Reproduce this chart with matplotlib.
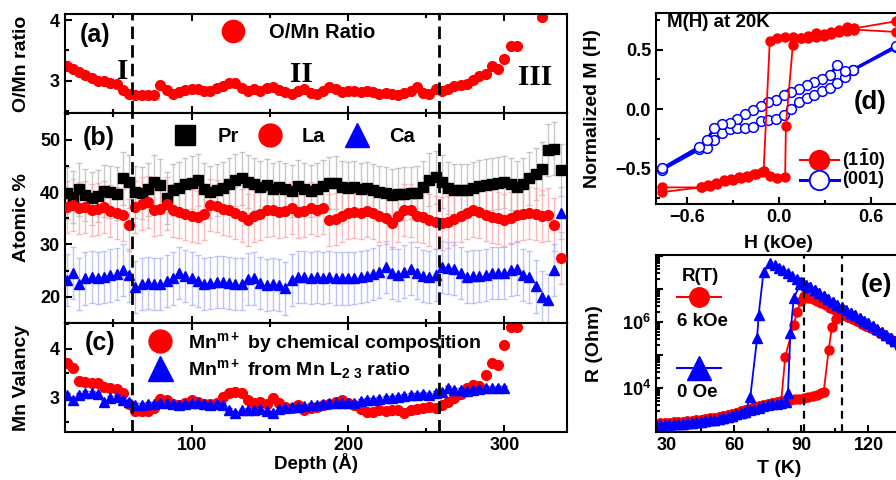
import numpy as np
import matplotlib
matplotlib.use("Agg")
import matplotlib.pyplot as plt
from matplotlib.lines import Line2D
from matplotlib.ticker import MultipleLocator, LogLocator, FuncFormatter, NullFormatter

plt.rcParams['font.family'] = ['Liberation Sans', 'DejaVu Sans']
plt.rcParams['font.weight'] = 'bold'
plt.rcParams['axes.labelweight'] = 'bold'
plt.rcParams['mathtext.fontset'] = 'custom'
plt.rcParams['mathtext.rm'] = 'Liberation Sans:bold'
plt.rcParams['mathtext.it'] = 'Liberation Sans:bold:italic'
plt.rcParams['mathtext.bf'] = 'Liberation Sans:bold'
plt.rcParams['mathtext.default'] = 'rm'

nan = np.nan

# ---- depth profiles (a)-(c) ----
depth = [20, 24, 28, 32, 36, 40, 44, 48, 52, 56, 60, 64, 68, 72, 76, 80, 84, 88, 92, 96,
         100, 104, 108, 112, 116, 120, 124, 128, 132, 136, 140, 144, 148, 152, 156, 160,
         164, 168, 172, 176, 180, 184, 188, 192, 196, 200, 204, 208, 212, 216, 220, 224,
         228, 232, 236, 240, 244, 248, 252, 256, 260, 264, 268, 272, 276, 280, 284, 288,
         292, 296, 300, 304, 308, 312, 316, 320, 324, 328, 332, 336]

o_mn = [3.25, 3.20, 3.14, 3.10, 3.05, 3.00, 3.00, 2.97, 2.95, 2.85,
        2.79, 2.77, 2.76, 2.76, 2.77, 2.93, 2.85, 2.79, 2.82, 2.85,
        2.87, 2.86, 2.84, 2.84, 2.88, 2.92, 2.96, 2.97, 2.88, 2.84,
        2.86, 2.84, 2.88, 2.90, 2.85, 2.81, 2.79, 2.84, 2.87, 2.80,
        2.78, 2.84, 2.89, 2.87, 2.82, 2.84, 2.83, 2.82, 2.84, 2.81,
        2.79, 2.80, 2.78, 2.76, 2.80, 2.84, 2.90, 2.80, 2.78, 2.86,
        2.83, 2.86, 2.91, 2.93, 2.95, 3.02, 3.08, 3.12, 3.24, 3.20,
        3.36, 3.57, 3.58, nan, nan, nan, 4.05, nan, nan, nan]

pr = [39.8, 39.0, 40.5, 39.5, 38.8, 39.3, 40.2, 40.0, 39.7, 42.6,
      42.0, 40.0, 39.8, 40.5, 42.0, 41.4, 38.9, 40.4, 40.7, 41.6,
      41.8, 42.3, 40.5, 40.0, 40.4, 40.8, 41.5, 42.3, 42.6, 42.0,
      41.5, 41.0, 41.4, 40.6, 41.0, 40.5, 40.2, 41.2, 40.6, 40.2,
      40.5, 41.2, 41.7, 41.8, 41.0, 40.8, 41.0, 40.5, 40.7, 40.3,
      40.0, 39.8, 39.5, 39.6, 39.7, 39.8, 39.9, 41.0, 42.4, 42.8,
      42.0, 40.8, 40.4, 40.4, 40.4, 40.8, 41.1, 41.3, 41.5, 41.7,
      41.9, 41.5, 41.0, 41.6, 42.6, 43.5, 44.5, 48.0, 48.3, 44.2]

la = [37.2, 37.5, 37.0, 37.2, 36.6, 36.8, 37.2, 36.4, 36.0, 35.6,
      33.7, 37.2, 37.8, 38.1, 36.6, 36.8, 37.8, 36.5, 36.2, 35.8,
      35.4, 35.2, 35.8, 37.5, 37.4, 36.8, 36.6, 36.0, 35.5, 34.7,
      35.4, 35.8, 36.5, 36.6, 36.2, 36.4, 36.9, 36.2, 36.4, 36.9,
      36.6, 36.9, 34.7, 34.9, 35.5, 36.0, 36.2, 36.0, 36.4, 36.0,
      35.5, 35.0, 34.1, 35.5, 36.6, 36.5, 35.5, 35.2, 34.7, 34.2,
      34.0, 34.3, 34.8, 35.5, 36.0, 36.5, 36.2, 35.7, 35.3, 35.0,
      34.7, 35.0, 35.6, 35.8, 36.0, 35.8, 35.4, 35.7, 33.8, 27.4]

ca = [23.2, 24.5, 22.5, 23.5, 23.8, 23.6, 23.8, 24.1, 24.3, 25.1,
      24.1, 21.9, 22.5, 22.6, 22.5, 22.5, 23.0, 23.5, 24.5, 24.0,
      23.5, 23.0, 22.5, 22.6, 22.8, 22.8, 22.6, 22.5, 22.5, 23.4,
      23.5, 22.6, 22.2, 22.4, 22.2, 21.6, 23.2, 23.8, 23.8, 23.6,
      23.8, 23.6, 23.8, 23.5, 23.5, 23.5, 23.6, 23.8, 24.0, 24.3,
      24.8, 25.7, 24.5, 24.2, 24.8, 25.4, 24.5, 24.0, 23.8, 24.2,
      25.7, 25.5, 25.4, 24.5, 23.8, 23.9, 24.0, 24.2, 24.5, 24.5,
      24.6, 25.2, 25.4, 24.2, 23.8, 22.0, 20.0, 19.4, 25.1, 36.0]

mn_chem = [3.72, 3.60, 3.35, 3.32, 3.30, 3.30, 3.22, 3.20, 3.18, 3.10,
           2.88, 2.72, 2.72, 2.72, 2.80, 2.98, 2.95, 2.88, 2.85, 2.90,
           2.95, 2.92, 2.88, 2.88, 2.90, 3.02, 3.10, 3.12, 3.10, 2.95,
           2.90, 2.92, 2.88, 3.00, 2.90, 2.82, 2.80, 2.85, 2.75, 2.80,
           2.82, 2.85, 2.88, 2.92, 2.95, 2.89, 2.86, 2.78, 2.70, 2.70,
           2.74, 2.72, 2.74, 2.75, 2.69, 2.74, 2.78, 2.79, 2.82, 2.80,
           2.85, 2.92, 3.00, 3.08, 3.20, 3.27, 3.24, 3.47, 3.71, 3.68,
           4.08, 4.45, 4.45, nan, nan, nan, nan, nan, nan, nan]

mn_l23 = [3.05, 2.96, 3.05, 3.10, 3.10, 3.08, 2.92, 3.00, 3.02, 2.95,
          2.92, 2.85, 2.86, 2.87, 2.88, 2.90, 2.89, 2.88, 2.85, 2.88,
          2.89, 2.89, 2.87, 2.86, 2.88, 2.86, 2.75, 2.69, 2.74, 2.76,
          2.75, 2.78, 2.72, 2.69, 2.78, 2.80, 2.82, 2.82, 2.84, 2.86,
          2.85, 2.88, 2.90, 2.89, 2.90, 2.89, 2.90, 2.93, 2.95, 2.96,
          2.97, 3.00, 3.00, 3.02, 3.04, 3.05, 3.06, 3.07, 3.05, 3.10,
          3.12, 3.20, 3.15, 3.16, 3.13, 3.16, 3.18, 3.20, 3.19, 3.20,
          3.20, nan, nan, nan, nan, nan, nan, nan, nan, nan]

o_mn_err = 0.05
atom_err = 5.0
chem_err = 0.07
l23_err = 0.04
region_bounds = [62, 258]

# ---- M(H) at 20K (d) ----
h_110_up = [-0.76, -0.51, -0.46, -0.41, -0.36, -0.31, -0.26, -0.21, -0.16, -0.11, -0.06,
            -0.01, 0.04, 0.045, 0.09, 0.14, 0.19, 0.24, 0.29, 0.34, 0.39, 0.44, 0.49, 0.76]
m_110_up = [-0.70, -0.66, -0.64, -0.62, -0.60, -0.59, -0.57, -0.56, -0.55, -0.53, -0.56,
            -0.58, -0.57, -0.14, 0.54, 0.60, 0.62, 0.64, 0.63, 0.65, 0.67, 0.69, 0.68, 0.74]
h_110_dn = [0.76, 0.49, 0.44, 0.39, 0.34, 0.29, 0.24, 0.19, 0.14, 0.09, 0.04, -0.01, -0.06,
            -0.10, -0.15, -0.20, -0.25, -0.30, -0.35, -0.40, -0.45, -0.50, -0.76]
m_110_dn = [0.65, 0.67, 0.66, 0.65, 0.63, 0.62, 0.61, 0.60, 0.60, 0.61, 0.61, 0.60, 0.57,
            -0.52, -0.55, -0.57, -0.58, -0.60, -0.61, -0.63, -0.65, -0.66, -0.66]
h_001_up = [-0.76, -0.52, -0.47, -0.42, -0.37, -0.32, -0.27, -0.22, -0.17, -0.12, -0.07, -0.02,
            0.03, 0.08, 0.13, 0.18, 0.23, 0.28, 0.33, 0.38, 0.43, 0.48, 0.76]
m_001_up = [-0.51, -0.34, -0.33, -0.26, -0.20, -0.17, -0.16, -0.16, -0.15, -0.10, -0.09, -0.08,
            -0.05, 0.00, 0.06, 0.09, 0.12, 0.15, 0.18, 0.22, 0.27, 0.33, 0.52]
h_001_dn = [0.76, 0.48, 0.43, 0.38, 0.33, 0.28, 0.23, 0.18, 0.13, 0.08, 0.03, -0.02, -0.07,
            -0.12, -0.17, -0.22, -0.27, -0.32, -0.37, -0.42, -0.47, -0.52, -0.76]
m_001_dn = [0.53, 0.33, 0.32, 0.37, 0.29, 0.25, 0.23, 0.20, 0.17, 0.14, 0.12, 0.08, 0.06,
            0.03, -0.01, -0.04, -0.08, -0.12, -0.13, -0.16, -0.26, -0.32, -0.50]

# ---- R(T) (e), log10(R / Ohm) ----
t_0oe_low = [25, 27, 29, 31, 33, 35, 37, 39, 41, 43, 45, 47, 49, 51, 53, 55, 57, 59, 61, 63,
             65, 67, 69, 71, 73, 75, 77, 79, 81, 83]
lr_0oe_low = [2.87, 2.87, 2.88, 2.89, 2.90, 2.91, 2.92, 2.93, 2.95, 2.96, 2.98, 3.00, 3.02,
              3.04, 3.07, 3.10, 3.13, 3.16, 3.20, 3.24, 3.28, 3.32, 3.36, 3.40, 3.44, 3.47,
              3.50, 3.53, 3.56, 3.59]
t_0oe_high = [76, 78, 80, 82, 84, 86, 88, 90, 92, 94, 96, 98, 100, 102, 104, 106, 108, 110,
              112, 114, 116, 118, 120, 122, 124, 126, 128, 130, 132, 134, 136]
lr_0oe_high = [7.78, 7.72, 7.64, 7.56, 7.48, 7.40, 7.31, 7.22, 7.13, 7.05, 6.96, 6.87, 6.79,
               6.70, 6.61, 6.52, 6.44, 6.36, 6.28, 6.20, 6.12, 6.04, 5.96, 5.87, 5.78, 5.69,
               5.60, 5.51, 5.42, 5.33, 5.24]
t_0oe_warm = [84.0, 85.1, 86.6, 89.6]
lr_0oe_warm = [3.84, 5.66, 6.72, 7.15]
t_0oe_cool = [73.1, 70.9, 70.2, 67.2]
lr_0oe_cool = [7.52, 6.21, 5.50, 3.74]

t_6k_low = [25, 27, 29, 31, 33, 35, 37, 39, 41, 43, 45, 47, 49, 51, 53, 55, 57, 59, 61, 63,
            65, 67, 69, 71, 73, 75, 77, 79, 81, 83, 85, 87, 89, 91, 93, 95, 97, 99]
lr_6k_low = [2.92, 2.93, 2.94, 2.95, 2.96, 2.97, 2.98, 2.99, 3.00, 3.02, 3.04, 3.06, 3.08,
             3.10, 3.12, 3.15, 3.18, 3.21, 3.25, 3.29, 3.33, 3.37, 3.41, 3.45, 3.48, 3.51,
             3.54, 3.57, 3.60, 3.62, 3.64, 3.66, 3.68, 3.70, 3.72, 3.75, 3.79, 3.86]
t_6k_high = [91, 93, 95, 97, 99, 101, 103, 105, 107, 109, 111, 113, 115, 117, 119, 121, 123,
             125, 127, 129, 131, 133, 135]
lr_6k_high = [6.77, 6.73, 6.68, 6.62, 6.56, 6.50, 6.43, 6.36, 6.28, 6.22, 6.15, 6.08, 6.02,
              5.95, 5.89, 5.82, 5.75, 5.67, 5.59, 5.50, 5.42, 5.33, 5.25]
t_6k_warm = [100.0, 102.2, 103.7, 105.5]
lr_6k_warm = [3.89, 5.15, 5.86, 6.10]
t_6k_cool = [89.8, 88.1, 86.6, 82.8]
lr_6k_cool = [6.62, 6.31, 5.91, 4.95]
t_marks = [91, 108]


def style(ax, top_ticks=False):
    for s in ax.spines.values():
        s.set_linewidth(1.5)
    ax.tick_params(which='both', direction='in', width=1.5, labelsize=13, top=top_ticks)
    ax.tick_params(which='major', length=5)
    ax.tick_params(which='minor', length=3)


fig = plt.figure(figsize=(8.96, 4.8), dpi=100)
ax_a = fig.add_axes([0.0725, 0.7646, 0.5603, 0.2063])
ax_b = fig.add_axes([0.0725, 0.3271, 0.5603, 0.4375])
ax_c = fig.add_axes([0.0725, 0.1000, 0.5603, 0.2271])
ax_d = fig.add_axes([0.7321, 0.5750, 0.2746, 0.3980])
ax_e = fig.add_axes([0.7321, 0.1000, 0.2746, 0.3690])

x = np.array(depth, dtype=float)
dash = (0, (4.5, 2.2))
caps = dict(capsize=2, capthick=1, elinewidth=1)

# (a)
ax_a.errorbar(x, o_mn, yerr=o_mn_err, fmt='o', color='red', ms=7, mec='red', ecolor='red', **caps)
ax_a.set_ylim(2.47, 4.1)
ax_a.yaxis.set_major_locator(MultipleLocator(1))
ax_a.yaxis.set_minor_locator(MultipleLocator(0.5))
ax_a.set_ylabel('O/Mn ratio', fontsize=14)
ax_a.text(0.06, 0.79, '(a)', transform=ax_a.transAxes, fontsize=18, ha='center', va='center')
for lab, px, py in [('I', 0.1155, 0.414), ('II', 0.47, 0.384), ('III', 0.937, 0.359)]:
    ax_a.text(px, py, lab, transform=ax_a.transAxes, fontsize=21, ha='center', va='center',
              family='Liberation Serif', fontweight='bold')
ax_a.legend([Line2D([], [], ls='none', marker='o', color='red', ms=16)], ['O/Mn Ratio'],
            loc='center left', bbox_to_anchor=(0.315, 0.81), frameon=False, fontsize=14.5,
            handlelength=1.0, handletextpad=1.3, borderpad=0, borderaxespad=0)

# (b)
ax_b.errorbar(x, pr, yerr=atom_err, fmt='none', ecolor='#b5b5b5', alpha=0.75, zorder=1, **caps)
ax_b.errorbar(x, la, yerr=atom_err, fmt='none', ecolor='#f7a5a5', alpha=0.75, zorder=1, **caps)
ax_b.errorbar(x, ca, yerr=atom_err, fmt='none', ecolor='#aab0f5', alpha=0.75, zorder=1, **caps)
ax_b.plot(x, pr, 's', color='black', ms=6.5, zorder=3)
ax_b.plot(x, la, 'o', color='red', ms=7, zorder=3)
ax_b.plot(x, ca, '^', color='blue', ms=7.5, zorder=3)
ax_b.set_ylim(15, 55.1)
ax_b.yaxis.set_major_locator(MultipleLocator(10))
ax_b.yaxis.set_minor_locator(MultipleLocator(5))
ax_b.set_ylabel('Atomic %', fontsize=14)
ax_b.text(0.068, 0.881, '(b)', transform=ax_b.transAxes, fontsize=18, ha='center', va='center')
ax_b.legend([Line2D([], [], ls='none', marker='s', color='black', ms=15),
             Line2D([], [], ls='none', marker='o', color='red', ms=16.5),
             Line2D([], [], ls='none', marker='^', color='blue', ms=17)],
            ['Pr', 'La', 'Ca'], ncol=3, loc='center left', bbox_to_anchor=(0.219, 0.886),
            frameon=False, fontsize=14.5, handlelength=1.0, handletextpad=1.1,
            columnspacing=1.05, borderpad=0, borderaxespad=0)

# (c)
ax_c.errorbar(x, mn_chem, yerr=chem_err, fmt='o', color='red', ms=7, ecolor='red', zorder=2, **caps)
ax_c.errorbar(x, mn_l23, yerr=l23_err, fmt='^', color='blue', ms=7.5, ecolor='blue', zorder=3, **caps)
ax_c.set_ylim(2.3, 4.53)
ax_c.yaxis.set_major_locator(MultipleLocator(1))
ax_c.yaxis.set_minor_locator(MultipleLocator(0.5))
ax_c.set_ylabel('Mn Valancy', fontsize=14)
ax_c.set_xlabel('Depth (Å)', fontsize=13.5)
ax_c.text(0.07, 0.817, '(c)', transform=ax_c.transAxes, fontsize=18, ha='center', va='center')
ax_c.legend([Line2D([], [], ls='none', marker='o', color='red', ms=16.5),
             Line2D([], [], ls='none', marker='^', color='blue', ms=18)],
            [r'Mn$^{\mathrm{m+}}$ by chemical composition',
             r'Mn$^{\mathrm{m+}}$ from Mn L$_{\mathrm{2\ 3}}$ ratio'],
            loc='center left', bbox_to_anchor=(0.169, 0.70), frameon=False, fontsize=14,
            handlelength=1.0, handletextpad=0.95, labelspacing=0.05,
            borderpad=0, borderaxespad=0)

for ax in (ax_a, ax_b, ax_c):
    style(ax, top_ticks=True)
    ax.set_xlim(19, 340)
    ax.xaxis.set_major_locator(MultipleLocator(100))
    ax.xaxis.set_minor_locator(MultipleLocator(50))
    for b in region_bounds:
        ax.axvline(b, color='black', lw=2, ls=dash, zorder=5)
    ax.yaxis.set_label_coords(-0.07, 0.5)
for ax in (ax_a, ax_b):
    ax.tick_params(labelbottom=False)
ax_c.xaxis.set_label_coords(0.5, -0.19)

# (d)
ax_d.plot(h_001_up, m_001_up, '-o', color='blue', lw=2.2, ms=7, mfc='white', mec='blue', mew=1.1)
ax_d.plot(h_001_dn, m_001_dn, '-o', color='blue', lw=2.2, ms=7, mfc='white', mec='blue', mew=1.1)
ax_d.plot(h_110_up, m_110_up, '-o', color='red', lw=1.3, ms=6.5)
ax_d.plot(h_110_dn, m_110_dn, '-o', color='red', lw=1.3, ms=6.5)
style(ax_d)
ax_d.set_xlim(-0.8, 0.8)
ax_d.set_ylim(-0.8, 0.81)
ax_d.xaxis.set_major_locator(MultipleLocator(0.6))
ax_d.xaxis.set_minor_locator(MultipleLocator(0.3))
ax_d.yaxis.set_major_locator(MultipleLocator(0.5))
ax_d.yaxis.set_minor_locator(MultipleLocator(0.25))
ax_d.set_xlabel('H (kOe)', fontsize=14)
ax_d.set_ylabel('Normalized M (H)', fontsize=14)
ax_d.xaxis.set_label_coords(0.5, -0.16)
ax_d.yaxis.set_label_coords(-0.222, 0.5)
ax_d.text(0.045, 0.95, 'M(H) at 20K', transform=ax_d.transAxes, fontsize=13.5, ha='left', va='center')
ax_d.text(0.87, 0.534, '(d)', transform=ax_d.transAxes, fontsize=18.5, ha='center', va='center')
for yy, col, face, lab in [(0.232, 'red', 'red', r'$(1\bar{1}0)$'), (0.128, 'blue', 'white', '(001)')]:
    ax_d.add_line(Line2D([0.585, 0.745], [yy, yy], transform=ax_d.transAxes, color=col,
                         lw=1.5 if col == 'red' else 2.2))
    ax_d.add_line(Line2D([0.663], [yy], transform=ax_d.transAxes, marker='o', ms=14,
                         color=col, mfc=face, mec=col, mew=1.3))
    ax_d.text(0.755, yy, lab, transform=ax_d.transAxes, fontsize=13, ha='left', va='center')

# (e)
def path(t_a, r_a, t_b, r_b, t_c, r_c):
    return np.concatenate([t_a, t_b, t_c]), 10 ** np.concatenate([r_a, r_b, r_c])

t0l, r0l = np.array(t_0oe_low), np.array(lr_0oe_low)
t0h, r0h = np.array(t_0oe_high), np.array(lr_0oe_high)
t6l, r6l = np.array(t_6k_low), np.array(lr_6k_low)
t6h, r6h = np.array(t_6k_high), np.array(lr_6k_high)

red_w = path(t6l, r6l, t_6k_warm, lr_6k_warm, t6h[t6h >= 107], r6h[t6h >= 107])
red_c = path(t6h[::-1], r6h[::-1], t_6k_cool, lr_6k_cool, t6l[t6l <= 81][::-1], r6l[t6l <= 81][::-1])
blue_w = path(t0l, r0l, t_0oe_warm, lr_0oe_warm, t0h[t0h >= 90], r0h[t0h >= 90])
blue_c = path(t0h[::-1], r0h[::-1], t_0oe_cool, lr_0oe_cool, t0l[t0l <= 65][::-1], r0l[t0l <= 65][::-1])

for tt, rr in (red_w, red_c):
    ax_e.plot(tt, rr, '-o', color='red', lw=1.3, ms=6.5)
for tt, rr in (blue_w, blue_c):
    ax_e.plot(tt, rr, '-^', color='blue', lw=1.3, ms=7)
for tm in t_marks:
    ax_e.axvline(tm, color='black', lw=1.6, ls=(0, (3.5, 2.5)), zorder=5)
ax_e.set_yscale('log')
style(ax_e)
ax_e.set_xlim(25, 135)
ax_e.set_ylim(4.65e2, 1.07e8)
ax_e.xaxis.set_major_locator(MultipleLocator(30))
ax_e.xaxis.set_minor_locator(MultipleLocator(15))
ax_e.yaxis.set_major_locator(LogLocator(base=10, numticks=20))
ax_e.yaxis.set_minor_locator(LogLocator(base=10, subs=np.arange(2, 10), numticks=20))
ax_e.yaxis.set_minor_formatter(NullFormatter())
ax_e.yaxis.set_major_formatter(FuncFormatter(
    lambda v, p: r'$10^{%d}$' % round(np.log10(v)) if round(np.log10(v)) in (4, 6) else ''))
ax_e.set_xlabel('T (K)', fontsize=14)
ax_e.set_ylabel('R (Ohm)', fontsize=14)
ax_e.xaxis.set_label_coords(0.5, -0.158)
ax_e.yaxis.set_label_coords(-0.215, 0.5)
ax_e.text(0.898, 0.83, '(e)', transform=ax_e.transAxes, fontsize=18.5, ha='center', va='center')
ax_e.text(0.179, 0.878, 'R(T)', transform=ax_e.transAxes, fontsize=13.5, ha='center', va='center')
ax_e.text(0.187, 0.624, '6 kOe', transform=ax_e.transAxes, fontsize=13.5, ha='center', va='center')
ax_e.text(0.167, 0.223, '0 Oe', transform=ax_e.transAxes, fontsize=13.5, ha='center', va='center')
for yy, col, mk, ms in [(0.764, 'red', 'o', 14), (0.36, 'blue', '^', 17)]:
    ax_e.add_line(Line2D([0.085, 0.265], [yy, yy], transform=ax_e.transAxes, color=col, lw=1.5))
    ax_e.add_line(Line2D([0.175], [yy], transform=ax_e.transAxes, marker=mk, ms=ms, color=col))

fig.savefig('out.png', dpi=100, facecolor='white')
